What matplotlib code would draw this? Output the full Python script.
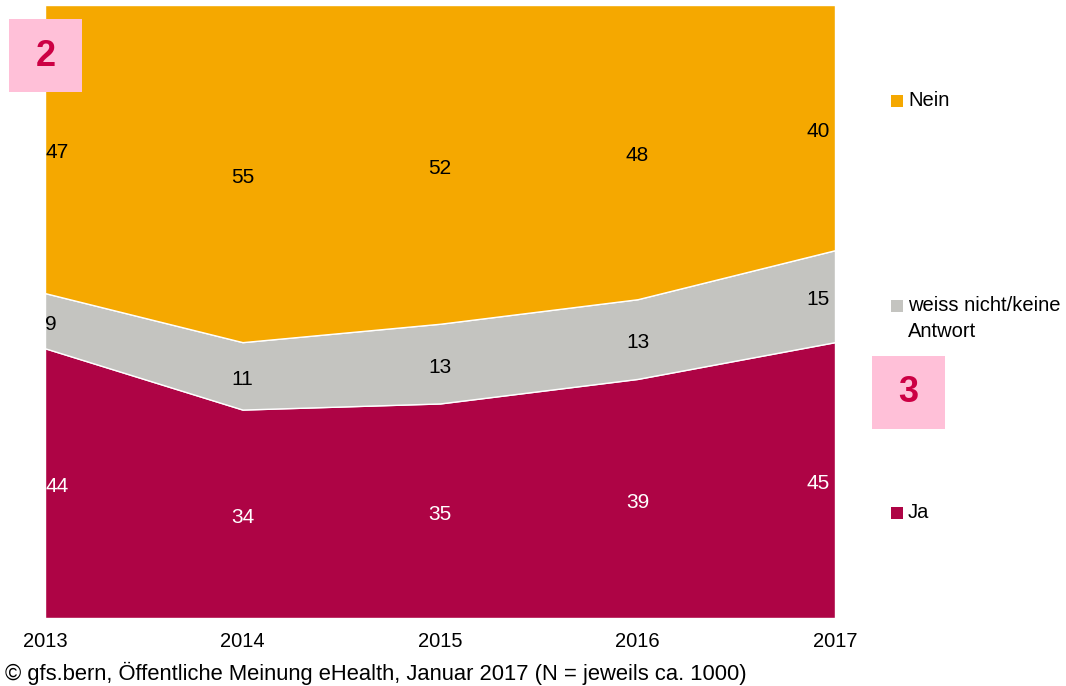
import numpy as np
import matplotlib.pyplot as plt
from matplotlib.patches import Rectangle

plt.rcParams['font.family'] = ['Liberation Sans', 'DejaVu Sans']

# Survey data (percent)
years = [2013, 2014, 2015, 2016, 2017]
ja = [44, 34, 35, 39, 45]
weiss_nicht = [9, 11, 13, 13, 15]
nein = [47, 55, 52, 48, 40]

series_names = ["Ja", "weiss nicht/keine\nAntwort", "Nein"]
colors = ["#AE0445", "#C4C4C0", "#F5A800"]
label_colors = ["white", "black", "black"]

W, H = 1066, 686
fig = plt.figure(figsize=(W / 100, H / 100), dpi=100)
ax = fig.add_axes([45 / W, (H - 618) / H, 790 / W, 613 / H])

data = np.array([ja, weiss_nicht, nein], dtype=float)
ax.stackplot(years, data, colors=colors, edgecolor="white", linewidth=1)

ax.set_xlim(years[0], years[-1])
ax.set_ylim(0, 100)
for s in ax.spines.values():
    s.set_visible(False)
ax.set_yticks([])
ax.set_xticks(years)
ax.set_xticklabels([str(y) for y in years], fontsize=14.5)
ax.tick_params(axis="x", length=0, pad=10)

# value labels in the middle of each band
bottoms = np.zeros(len(years))
for vals, tc in zip(data, label_colors):
    for i, (x, v) in enumerate(zip(years, vals)):
        y = bottoms[i] + v / 2 - 0.6
        if i == 0:
            ha, xx = "left", x
        elif i == len(years) - 1:
            ha, xx = "right", x - 0.025
        else:
            ha, xx = "center", x
        ax.text(xx, y, f"{int(v)}", ha=ha, va="center", fontsize=15, color=tc)
    bottoms += vals

# legend on the right
legend_y = [513, 306, 101]
for name, c, ly in zip(series_names, colors, legend_y):
    fig.add_artist(Rectangle((891 / W, 1 - (ly + 6) / H), 12 / W, 12 / H,
                             transform=fig.transFigure, facecolor=c, edgecolor="none"))
    for k, line in enumerate(name.split("\n")):
        fig.text(908 / W, 1 - (ly + 25 * k) / H, line, ha="left", va="center",
                 fontsize=14.5)

# numbered markers
for num, (bx, by) in zip(["2", "3"], [(9, 19), (872, 356)]):
    fig.add_artist(Rectangle((bx / W, 1 - (by + 73) / H), 73 / W, 73 / H,
                             transform=fig.transFigure, facecolor="#FFC0D8", edgecolor="none"))
    fig.text((bx + 36.5) / W, 1 - (by + 37) / H, num, ha="center", va="center",
             fontsize=26, fontweight="bold", color="#CC0044")

fig.text(5 / W, 1 - 673 / H,
         "\u00a9 gfs.bern, \u00d6ffentliche Meinung eHealth, Januar 2017 (N = jeweils ca. 1000)",
         ha="left", va="center", fontsize=15.8)

fig.savefig("out.png", dpi=100)
